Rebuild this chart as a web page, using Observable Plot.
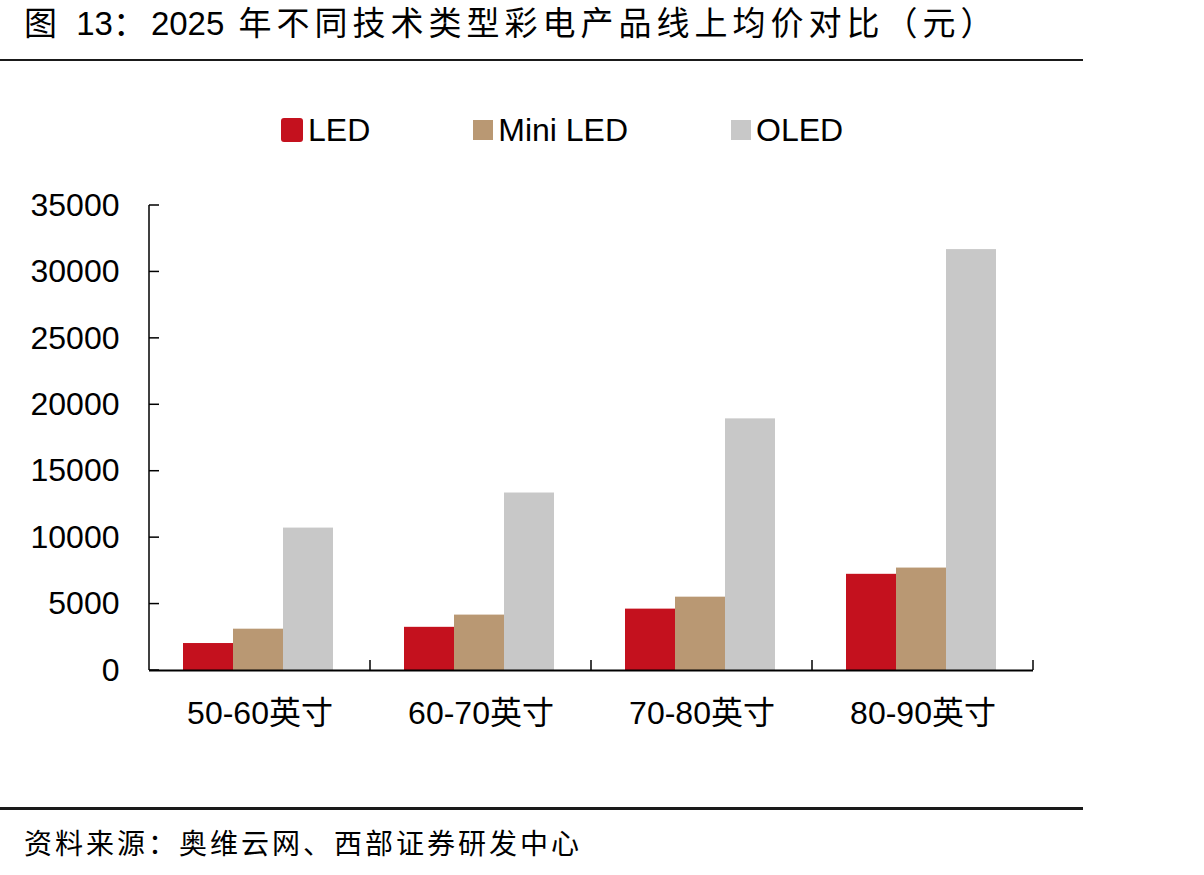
<!DOCTYPE html>
<html><head><meta charset="utf-8">
<script src="https://cdn.jsdelivr.net/npm/d3@7"></script>
<script src="https://cdn.jsdelivr.net/npm/@observablehq/plot@0.6"></script>
<style>
body{margin:0;background:#fff;}
#wrap{position:relative;width:1204px;height:875px;overflow:hidden;font-family:"Liberation Sans",Arial,"Noto Sans CJK SC",sans-serif;color:#000;}
#title{position:absolute;left:24px;top:3px;font-size:33px;line-height:42px;letter-spacing:5px;white-space:nowrap;}
#title .n{letter-spacing:0;}
.hline{position:absolute;left:0;width:1083px;background:#1a1a1a;}
#legend{position:absolute;left:281px;top:112px;height:36px;display:flex;align-items:center;gap:103px;font-size:32px;}
.item{display:flex;align-items:center;}
.sw{width:20px;height:20px;margin-right:5px;}
#chart{position:absolute;left:0;top:180px;}
#source{position:absolute;left:24px;top:825px;font-size:28px;line-height:34px;letter-spacing:3px;white-space:nowrap;font-family:"Noto Sans CJK SC",sans-serif;}
</style></head>
<body>
<div id="wrap">
  <div id="title">图 <span class="n">13</span>：<span class="n">2025</span> 年不同技术类型彩电产品线上均价对比（元）</div>
  <div class="hline" style="top:59px;height:2px;"></div>
  <div id="legend"></div>
  <div id="chart"></div>
  <div class="hline" style="top:807px;height:3px;"></div>
  <div id="source">资料来源：奥维云网、西部证券研发中心</div>
</div>
<script>
const categories = ["50-60英寸", "60-70英寸", "70-80英寸", "80-90英寸"];
const series = ["LED", "Mini LED", "OLED"];
const ledValues = [2030, 3250, 4620, 7240];
const miniLedValues = [3110, 4170, 5520, 7710];
const oledValues = [10720, 13360, 18940, 31680];
const colors = ["#c4111e", "#b99873", "#c8c8c8"];
const yTicks = [0, 5000, 10000, 15000, 20000, 25000, 30000, 35000];

const valueSets = [ledValues, miniLedValues, oledValues];
const rows = [];
categories.forEach((c, i) => series.forEach((s, j) => rows.push({cat: c, series: s, value: valueSets[j][i]})));

// legend
const legend = document.getElementById("legend");
series.forEach((s, j) => {
  const it = document.createElement("div"); it.className = "item";
  const sw = document.createElement("div"); sw.className = "sw"; sw.style.background = colors[j];
  if (j === 0) { sw.style.width = "22px"; sw.style.height = "24px"; sw.style.borderRadius = "3px"; }
  const tx = document.createElement("span"); tx.textContent = s;
  it.appendChild(sw); it.appendChild(tx); legend.appendChild(it);
});

const chart = Plot.plot({
  width: 1100,
  height: 560,
  marginLeft: 148,
  marginRight: 67,
  marginTop: 25,
  marginBottom: 70,
  style: {fontSize: "32px", fontFamily: '"Liberation Sans", Arial, "Noto Sans CJK SC", sans-serif', color: "#000", background: "transparent"},
  fx: {domain: categories, paddingInner: 0, paddingOuter: 0, label: null},
  x: {domain: series, paddingInner: 0, paddingOuter: 0.67, align: 0.48, axis: null},
  y: {domain: [0, 35000], label: null},
  color: {domain: series, range: colors},
  marks: [
    Plot.barY(rows, {fx: "cat", x: "series", y: "value", fill: "series"}),
    Plot.ruleY([0], {stroke: "#000", strokeWidth: 2}),
    Plot.axisY({ticks: yTicks, tickSize: 0, tickPadding: 30, label: null, tickFormat: d => String(d)}),
    Plot.axisFx({anchor: "bottom", tickSize: 0, tickPadding: 31, label: null})
  ]
});
document.getElementById("chart").appendChild(chart);

// axis line and inward ticks, positioned through Plot's own scales
const fx = chart.scale("fx"), y = chart.scale("y");
const svg = d3.select(chart);
const x0 = fx.apply(categories[0]);
const g = svg.append("g").attr("stroke", "#000").attr("stroke-width", 1.5);
g.append("line").attr("x1", x0).attr("x2", x0).attr("y1", y.apply(35000)).attr("y2", y.apply(0));
yTicks.forEach(t => g.append("line").attr("x1", x0).attr("x2", x0 + 10).attr("y1", y.apply(t)).attr("y2", y.apply(t)));
categories.forEach(c => {
  const xr = fx.apply(c) + fx.bandwidth;
  g.append("line").attr("x1", xr).attr("x2", xr).attr("y1", y.apply(0)).attr("y2", y.apply(0) - 10);
});
</script>
</body></html>
